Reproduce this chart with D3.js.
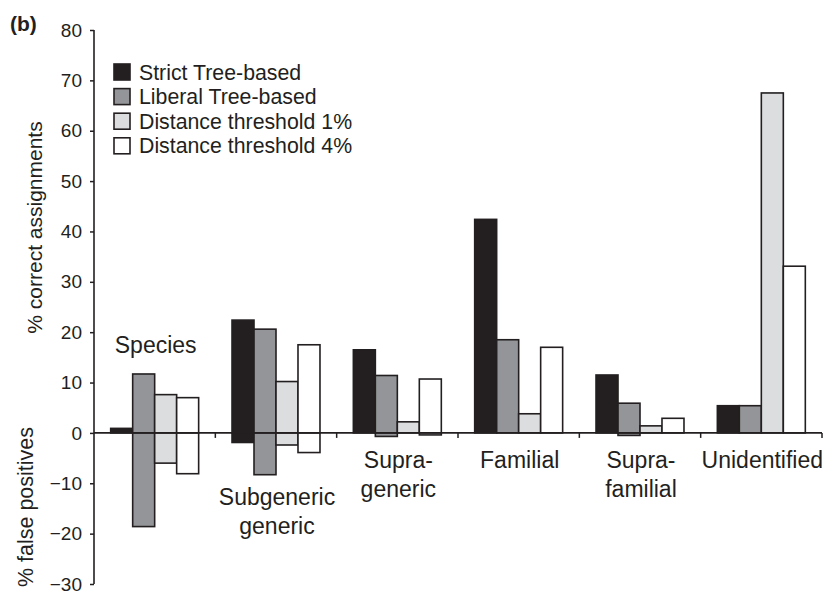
<!DOCTYPE html>
<html><head><meta charset="utf-8">
<script src="https://cdn.jsdelivr.net/npm/d3@7"></script>
<style>body{margin:0;background:#fff}svg{display:block}text{font-family:"Liberation Sans",Arial,sans-serif;fill:#231f20}</style>
</head><body><svg id="c" width="833" height="591"></svg>
<script>
const categories = ["Species", "Subgeneric generic", "Supra-generic", "Familial", "Supra-familial", "Unidentified"];
const categoryLines = [["Species"], ["Subgeneric", "generic"], ["Supra-", "generic"], ["Familial"], ["Supra-", "familial"], ["Unidentified"]];
const seriesNames = ["Strict Tree-based", "Liberal Tree-based", "Distance threshold 1%", "Distance threshold 4%"];
const strictCorrect  = [0.9, 22.4, 16.5, 42.4, 11.5, 5.4];
const strictFalse    = [0, -1.9, 0, 0, 0, 0];
const liberalCorrect = [11.7, 20.6, 11.4, 18.5, 5.9, 5.4];
const liberalFalse   = [-18.6, -8.3, -0.7, 0, -0.5, 0];
const dist1Correct   = [7.6, 10.2, 2.2, 3.8, 1.4, 67.5];
const dist1False     = [-6.0, -2.4, 0, 0, 0, 0];
const dist4Correct   = [7.0, 17.5, 10.7, 17.0, 2.9, 33.1];
const dist4False     = [-8.1, -3.9, -0.4, 0, 0, 0];
const yTicks = [-30, -20, -10, 0, 10, 20, 30, 40, 50, 60, 70, 80];

const correct = [strictCorrect, liberalCorrect, dist1Correct, dist4Correct];
const falsePos = [strictFalse, liberalFalse, dist1False, dist4False];
const fills = ["#231f20", "#939598", "#dcddde", "#ffffff"];
const ink = "#231f20";

const svg = d3.select("#c");
const x0 = d3.scaleBand().domain(categories).range([94, 822]).paddingInner(0.275).paddingOuter(0.1375);
const x1 = d3.scaleBand().domain(seriesNames).range([0, x0.bandwidth()]);
const y = d3.scaleLinear().domain([-30, 80]).range([584, 30]);

// bars
const bars = [];
seriesNames.forEach((s, si) => {
  categories.forEach((c, ci) => {
    if (correct[si][ci] !== 0) bars.push({s, si, c, v: correct[si][ci]});
    if (falsePos[si][ci] !== 0) bars.push({s, si, c, v: falsePos[si][ci]});
  });
});
svg.append("g").selectAll("rect").data(bars).join("rect")
  .attr("x", d => x0(d.c) + x1(d.s))
  .attr("width", x1.bandwidth())
  .attr("y", d => Math.min(y(d.v), y(0)))
  .attr("height", d => Math.abs(y(d.v) - y(0)))
  .attr("fill", d => fills[d.si])
  .attr("stroke", ink).attr("stroke-width", 1.6);

// y axis
const yAxis = svg.append("g").attr("transform", "translate(94,0)")
  .call(d3.axisLeft(y).tickValues(yTicks).tickSize(4).tickPadding(8).tickFormat(d => d < 0 ? "\u2212" + Math.abs(d) : d));
yAxis.select(".domain").attr("stroke", ink).attr("stroke-width", 1.6).attr("d", `M0,${y(80)}V${y(-30)}`);
yAxis.selectAll(".tick line").attr("stroke", ink).attr("stroke-width", 1.5);
yAxis.selectAll(".tick text").attr("font-size", 19).style("fill", ink);

// x axis at zero with category boundary ticks
const bounds = categories.map((c, i) => 94 + (i + 1) * x0.step());
const xg = svg.append("g");
xg.append("line").attr("x1", 94).attr("x2", 822).attr("y1", y(0)).attr("y2", y(0)).attr("stroke", ink).attr("stroke-width", 1.6);
xg.selectAll("line.t").data(bounds).join("line").attr("class", "t")
  .attr("x1", d => d).attr("x2", d => d).attr("y1", y(0)).attr("y2", y(0) + 5)
  .attr("stroke", ink).attr("stroke-width", 1.5);

// category labels
categoryLines.forEach((lines, i) => {
  const cx = x0(categories[i]) + x0.bandwidth() / 2 + 1;
  let base;
  if (i === 0) base = 353; else if (i === 1) base = 505; else base = 468;
  lines.forEach((t, li) => {
    svg.append("text").attr("x", cx).attr("y", base + li * 29)
      .attr("text-anchor", "middle").attr("font-size", 23).text(t);
  });
});

// axis titles
svg.append("text").attr("transform", `translate(41.5,227.5) rotate(-90)`)
  .attr("text-anchor", "middle").attr("font-size", 21).text("% correct assignments");
svg.append("text").attr("transform", `translate(32.5,507) rotate(-90)`)
  .attr("text-anchor", "middle").attr("font-size", 21.5).text("% false positives");

// panel label
svg.append("text").attr("x", 10).attr("y", 31).attr("font-size", 21).attr("font-weight", "bold").text("(b)");

// legend
const lg = svg.append("g");
seriesNames.forEach((s, i) => {
  const cy = 72 + i * 24.6;
  lg.append("rect").attr("x", 114).attr("y", cy - 8).attr("width", 16).attr("height", 16)
    .attr("fill", fills[i]).attr("stroke", ink).attr("stroke-width", 1.6);
  lg.append("text").attr("x", 139).attr("y", cy + 7.5).attr("font-size", 21.3).text(s);
});
</script></body></html>
